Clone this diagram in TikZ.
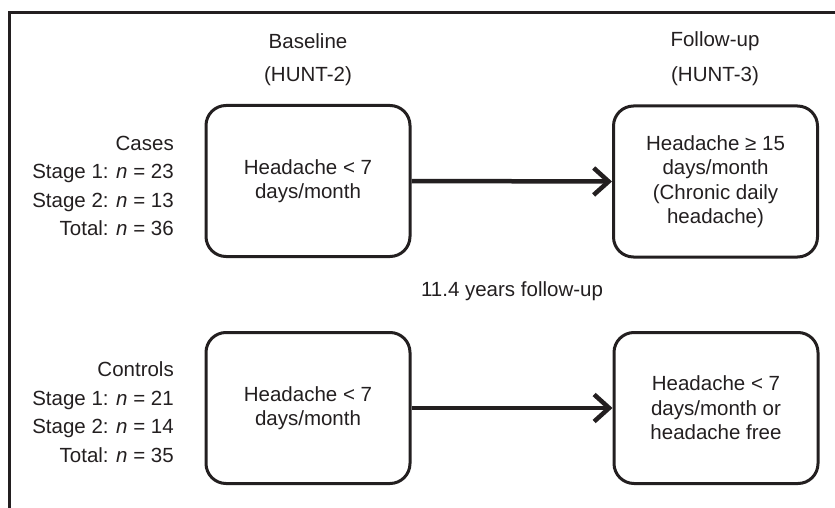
\documentclass[tikz,border=0pt]{standalone}
\usepackage{fontspec}
\setmainfont{Liberation Sans}
\usetikzlibrary{arrows.meta}
\definecolor{ink}{HTML}{231F20}
\tikzset{
  box/.style={draw=ink, line width=3pt, rounded corners=20pt, minimum width=204pt, minimum height=151pt, align=center, text=ink, font=\fontsize{20.5}{24.5}\selectfont, inner sep=0pt},
  lbl/.style={text=ink, font=\fontsize{20.5}{28.5}\selectfont, inner sep=0pt},
  arr/.style={draw=ink, line width=4.5pt, -{Straight Barb[length=15pt,width=27pt,line width=4.5pt]}}
}
\begin{document}
\begin{tikzpicture}[x=1pt,y=-1pt]
\useasboundingbox (0,0) rectangle (835,508);
\draw[ink, line width=3pt] (835,13) -- (9,13) -- (9,508);
\node[lbl] (h1) at (308,41) {Baseline};
\node[lbl] (h2) at (308,76) {(HUNT-2)};
\node[lbl] (h3) at (715,41) {Follow-up};
\node[lbl] (h4) at (715,76) {(HUNT-3)};
\node[box] (b1) at (308,181) {Headache < 7\\days/month};
\node[box] (b2) at (715.5,181.5) {Headache ≥ 15\\days/month\\(Chronic daily\\headache)};
\node[box] (b3) at (308,408) {Headache < 7\\days/month};
\node[box] (b4) at (716,408) {Headache < 7\\days/month or\\headache free};
\node[lbl, align=right, anchor=east] (c1) at (174,186) {Cases\\Stage 1: \textit{n} = 23\\Stage 2: \textit{n} = 13\\Total: \textit{n} = 36};
\node[lbl, align=right, anchor=east] (c2) at (174,412) {Controls\\Stage 1: \textit{n} = 21\\Stage 2: \textit{n} = 14\\Total: \textit{n} = 35};
\node[lbl] (fu) at (512,291) {11.4 years follow-up};
\draw[arr] (b1.east) -- (b2.west);
\draw[arr] (b3.east) -- (b4.west);
\end{tikzpicture}
\end{document}
